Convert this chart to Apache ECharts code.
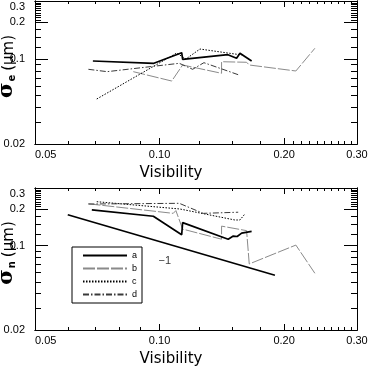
<!DOCTYPE html>
<html>
<head>
<meta charset="utf-8">
<script src="https://cdn.jsdelivr.net/npm/echarts@6/dist/echarts.min.js"></script>
<style>html,body{margin:0;padding:0;background:#fff}#c{width:368px;height:368px}</style>
</head>
<body>
<div id="c"></div>
<script>
// ---- tick values / labels ----
const xTickValues = [0.05, 0.10, 0.20, 0.30];
const xTickText = ['0.05', '0.10', '0.20', '0.30'];
const xMajorTicks = [0.10, 0.20];
const xMinorTicks = [0.06, 0.07, 0.08, 0.09, 0.125, 0.15, 0.175, 0.21, 0.22, 0.23, 0.24, 0.25, 0.26, 0.27, 0.28, 0.29];
const yTickValues = [0.02, 0.1, 0.2, 0.3];
const yTickText = ['0.02', '0.1', '0.2', '0.3'];
const yMajorTicks = [0.1, 0.2];
const yMinorTicks = [0.03, 0.04, 0.05, 0.06, 0.07, 0.08, 0.09, 0.125, 0.15, 0.175, 0.21, 0.22, 0.23, 0.24, 0.25, 0.26, 0.27, 0.28, 0.29];

const seriesNames = ['a', 'b', 'c', 'd'];

// ---- top panel (sigma_e) ----
const topAX = [0.0690, 0.0969, 0.1131, 0.1137, 0.1463, 0.1535, 0.1564, 0.1669];
const topAY = [0.0963, 0.0922, 0.1127, 0.0994, 0.1085, 0.1013, 0.1114, 0.0963];
const topBX = [0.0864, 0.1070, 0.1137, 0.1412, 0.1412, 0.1623, 0.1647, 0.2135, 0.2373];
const topBY = [0.0787, 0.0659, 0.0893, 0.0763, 0.0950, 0.0940, 0.0893, 0.0797, 0.1225];
const topCX = [0.0705, 0.1100, 0.1158, 0.1252, 0.1479, 0.1579];
const topCY = [0.0469, 0.1120, 0.1000, 0.1208, 0.1114, 0.1080];
const topDX = [0.0673, 0.0747, 0.1116, 0.1202, 0.1280, 0.1549];
const topDY = [0.0823, 0.0787, 0.0922, 0.0823, 0.0933, 0.0743];

// ---- bottom panel (sigma_n) ----
const botAX = [0.0686, 0.0966, 0.1131, 0.1137, 0.1465, 0.1507, 0.1540, 0.1579, 0.1669];
const botAY = [0.198, 0.175, 0.123, 0.155, 0.113, 0.120, 0.119, 0.127, 0.131];
const botBX = [0.0673, 0.1079, 0.1095, 0.1137, 0.1412, 0.1412, 0.1623, 0.1647, 0.2135, 0.2373];
const botBY = [0.222, 0.185, 0.195, 0.137, 0.113, 0.145, 0.133, 0.0705, 0.101, 0.059];
const botCX = [0.0705, 0.1120, 0.1520, 0.1564, 0.1608];
const botCY = [0.231, 0.201, 0.163, 0.163, 0.183];
const botDX = [0.0673, 0.1116, 0.1275, 0.1549];
const botDY = [0.221, 0.224, 0.185, 0.189];

// slope -1 reference line
const refX = [0.06, 0.19];
const refY = [0.18, 0.0568];
const slopeLabelAt = [0.103, 0.075];
const slopeLabel = '\u22121';

// ---- builders ----
const FONT = 'Liberation Sans';
function pairs(xs, ys) { return xs.map((x, i) => [x, ys[i]]); }
function lookup(vals, texts) {
  return v => {
    let best = 0, bd = Infinity;
    vals.forEach((t, i) => { const d = Math.abs(Math.log(t) - Math.log(v)); if (d < bd) { bd = d; best = i; } });
    return texts[best];
  };
}
const styles = {
  a: { color: '#000', width: 1.7, type: 'solid' },
  b: { color: '#8a8a8a', width: 1, type: [12, 2] },
  c: { color: '#000', width: 1, type: [1.5, 1.5] },
  d: { color: '#3a3a3a', width: 1, type: [6, 2, 1.5, 2] }
};

const xAxis = [], yAxis = [];
function addAxes(g, yName) {
  const xb = { type: 'log', logBase: 10, min: 0.05, max: 0.3, gridIndex: g,
    splitLine: { show: false }, minorTick: { show: false },
    axisLine: { show: true, onZero: false, lineStyle: { color: '#000', width: 1 } } };
  const yb = { type: 'log', logBase: 10, min: 0.02, max: 0.3, gridIndex: g,
    splitLine: { show: false }, minorTick: { show: false },
    axisLine: { show: true, onZero: false, lineStyle: { color: '#000', width: 1 } } };
  const base = xAxis.length;
  xAxis.push(Object.assign({}, xb, {
    position: 'bottom',
    axisTick: { show: true, inside: true, length: 6, customValues: xMajorTicks, lineStyle: { color: '#000' } },
    axisLabel: { show: true, customValues: xTickValues, formatter: lookup(xTickValues, xTickText),
      color: '#000', fontFamily: FONT, fontSize: 11, margin: 5, alignMinLabel: 'left' },
    name: 'Visibility', nameLocation: 'middle', nameGap: 22, nameMoveOverlap: false,
    nameTextStyle: { color: '#000', fontFamily: 'DejaVu Sans', fontSize: 15, padding: [0, 50, 0, 0] }
  }));
  xAxis.push(Object.assign({}, xb, { position: 'bottom',
    axisTick: { show: true, inside: true, length: 3, customValues: xMinorTicks, lineStyle: { color: '#000' } },
    axisLabel: { show: false } }));
  xAxis.push(Object.assign({}, xb, { position: 'top',
    axisTick: { show: true, inside: true, length: 6, customValues: xMajorTicks, lineStyle: { color: '#000' } },
    axisLabel: { show: false } }));
  xAxis.push(Object.assign({}, xb, { position: 'top',
    axisTick: { show: true, inside: true, length: 3, customValues: xMinorTicks, lineStyle: { color: '#000' } },
    axisLabel: { show: false } }));
  yAxis.push(Object.assign({}, yb, {
    position: 'left',
    axisTick: { show: true, inside: true, length: 13, customValues: yMajorTicks, lineStyle: { color: '#000' } },
    axisLabel: { show: true, customValues: yTickValues, formatter: lookup(yTickValues, yTickText),
      color: '#000', fontFamily: FONT, fontSize: 11, margin: 10, verticalAlignMaxLabel: 'top' },
    name: '{s|\u03c3}{sub|' + yName + '}{p|(\u03bcm)}', nameLocation: 'middle', nameRotate: 90, nameGap: 18,
    nameMoveOverlap: false,
    nameTextStyle: { color: '#000', fontFamily: 'DejaVu Sans', fontSize: 15, padding: [0, 0, 0, 12],
      rich: {
        s: { fontSize: 21, fontWeight: 'bold', fontFamily: 'DejaVu Serif', color: '#000', lineHeight: 22, verticalAlign: 'bottom' },
        sub: { fontSize: 10, fontWeight: 'bold', fontFamily: 'DejaVu Sans', color: '#000', verticalAlign: 'bottom', lineHeight: 22, padding: [0, 4, 0, 1] },
        p: { fontSize: 15, fontFamily: 'DejaVu Sans', color: '#000', lineHeight: 22, verticalAlign: 'bottom' }
      } }
  }));
  yAxis.push(Object.assign({}, yb, { position: 'left',
    axisTick: { show: true, inside: true, length: 6, customValues: yMinorTicks, lineStyle: { color: '#000' } },
    axisLabel: { show: false } }));
  yAxis.push(Object.assign({}, yb, { position: 'right',
    axisTick: { show: true, inside: true, length: 13, customValues: yMajorTicks, lineStyle: { color: '#000' } },
    axisLabel: { show: false } }));
  yAxis.push(Object.assign({}, yb, { position: 'right',
    axisTick: { show: true, inside: true, length: 6, customValues: yMinorTicks, lineStyle: { color: '#000' } },
    axisLabel: { show: false } }));
  return base;
}
const gTop = addAxes(0, 'e');
const gBot = addAxes(1, 'n');

function lineSeries(name, xs, ys, axIdx) {
  return {
    type: 'line', name: name, xAxisIndex: axIdx, yAxisIndex: axIdx,
    data: pairs(xs, ys), symbol: 'none', showSymbol: false, animation: false,
    lineStyle: styles[name], itemStyle: { color: styles[name].color }, z: name === 'a' ? 5 : 3
  };
}

const series = [
  lineSeries('a', botAX, botAY, gBot),
  lineSeries('b', botBX, botBY, gBot),
  lineSeries('c', botCX, botCY, gBot),
  lineSeries('d', botDX, botDY, gBot),
  lineSeries('a', topAX, topAY, gTop),
  lineSeries('b', topBX, topBY, gTop),
  lineSeries('c', topCX, topCY, gTop),
  lineSeries('d', topDX, topDY, gTop),
  { type: 'line', name: 'ref', xAxisIndex: gBot, yAxisIndex: gBot, data: pairs(refX, refY),
    symbol: 'none', animation: false, lineStyle: { color: '#000', width: 1.7 } },
  { type: 'scatter', name: 'slope', xAxisIndex: gBot, yAxisIndex: gBot, data: [slopeLabelAt],
    symbolSize: 0, animation: false,
    label: { show: true, position: 'inside', formatter: slopeLabel, color: '#000', fontFamily: FONT, fontSize: 11 } }
];

const chart = echarts.init(document.getElementById('c'), null, { renderer: 'canvas' });
chart.setOption({
  animation: false,
  backgroundColor: '#fff',
  grid: [
    { left: 35, right: 11, top: 1, height: 143, outerBoundsMode: 'none', containLabel: false },
    { left: 35, right: 11, top: 188, height: 142, outerBoundsMode: 'none', containLabel: false }
  ],
  xAxis: xAxis,
  yAxis: yAxis,
  legend: {
    data: seriesNames, selectedMode: false,
    left: 72, top: 247, orient: 'vertical',
    itemWidth: 44, itemHeight: 8, itemGap: 4,
    padding: [4, 5, 4, 10],
    itemStyle: { opacity: 0 },
    borderColor: '#000', borderWidth: 1, borderRadius: 0,
    textStyle: { fontSize: 9, fontFamily: FONT, color: '#000' }
  },
  series: series
});
</script>
</body>
</html>
